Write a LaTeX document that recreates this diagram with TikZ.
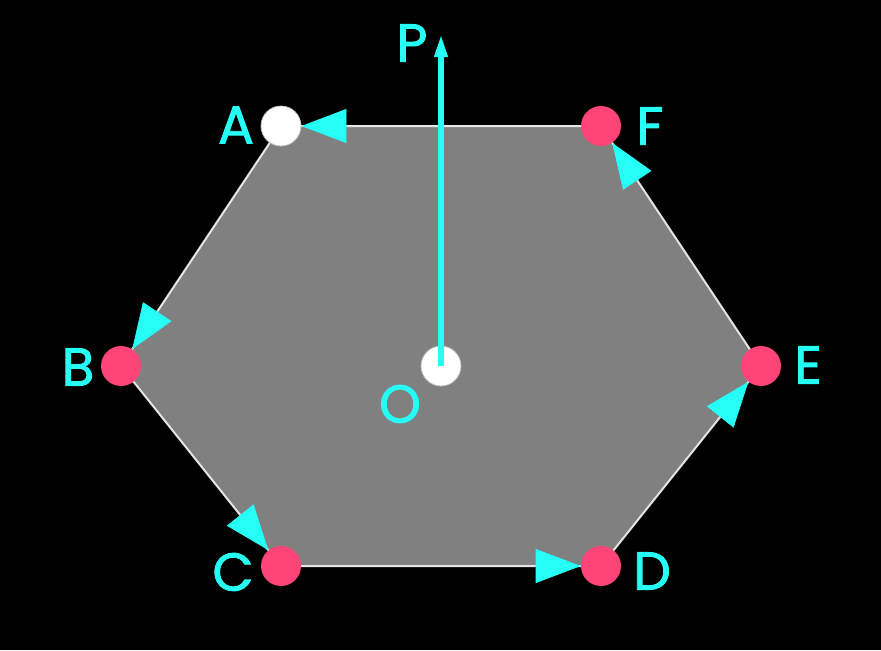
\documentclass[tikz,border=0pt]{standalone}
\usepackage{fontspec}
\setmainfont{Poppins}
\newfontfamily\tagfont{Poppins}[FakeBold=1.6]
\usetikzlibrary{arrows.meta,calc}
\usepackage{xcolor}
\definecolor{hexgray}{RGB}{128,128,128}
\definecolor{rimwhite}{RGB}{230,230,230}
\definecolor{tipcyan}{RGB}{38,255,245}
\definecolor{dotred}{RGB}{255,68,119}

\begin{document}
\begin{tikzpicture}[
    x=0.75pt, y=-0.75pt,
    vertex/.style={circle, fill=dotred, inner sep=0pt, minimum size=30pt},
    hollow/.style={vertex, fill=white, draw=black!25, line width=0.6pt},
    letter/.style={text=tipcyan, inner sep=0pt, font=\tagfont\fontsize{40}{40}\selectfont},
    flow/.style={-{Triangle[length=33.75pt, width=25.5pt]}, tipcyan, line width=0.5pt},
    pointer/.style={-{Triangle[length=18pt, width=9pt]}, tipcyan, line width=4.5pt}
  ]
    \fill[black] (0,0) rectangle (881,650);
    \useasboundingbox (0,0) rectangle (881,650);
    % hexagon corners
    \coordinate (pA) at (281,126);
    \coordinate (pB) at (121,366);
    \coordinate (pC) at (281,566);
    \coordinate (pD) at (601,566);
    \coordinate (pE) at (761,366);
    \coordinate (pF) at (601,126);
    \filldraw[fill=hexgray, draw=rimwhite, line width=1.5pt] (pA) -- (pB) -- (pC) -- (pD) -- (pE) -- (pF) -- cycle;
    \node[hollow] (A) at (pA) {};
    \node[vertex] (B) at (pB) {};
    \node[vertex] (C) at (pC) {};
    \node[vertex] (D) at (pD) {};
    \node[vertex] (E) at (pE) {};
    \node[vertex] (F) at (pF) {};
    \node[hollow] (ctr) at (441,366) {};
    % direction along the rim
    \draw[flow] ($(A)!49.5pt!(F)$) -- (A);
    \draw[flow] ($(B)!49.5pt!(A)$) -- (B);
    \draw[flow] ($(C)!49.5pt!(B)$) -- (C);
    \draw[flow] ($(D)!49.5pt!(C)$) -- (D);
    \draw[flow] ($(E)!49.5pt!(D)$) -- (E);
    \draw[flow] ($(F)!49.5pt!(E)$) -- (F);
    \coordinate (tipP) at (441,33);
    \draw[pointer] (ctr.center) -- (tipP);
    % labels
    \node[letter] (labA) at (236,125) {A};
    \node[letter] (labB) at (78,367) {B};
    \node[letter] (labC) at (233,572) {C};
    \node[letter] (labD) at (652,571) {D};
    \node[letter] (labE) at (808,365) {E};
    \node[letter] (labF) at (650,126) {F};
    \node[letter] (labP) at (412,43) {P};
    \node[letter] (labO) at (400,404) {O};
  \end{tikzpicture}
\end{document}
